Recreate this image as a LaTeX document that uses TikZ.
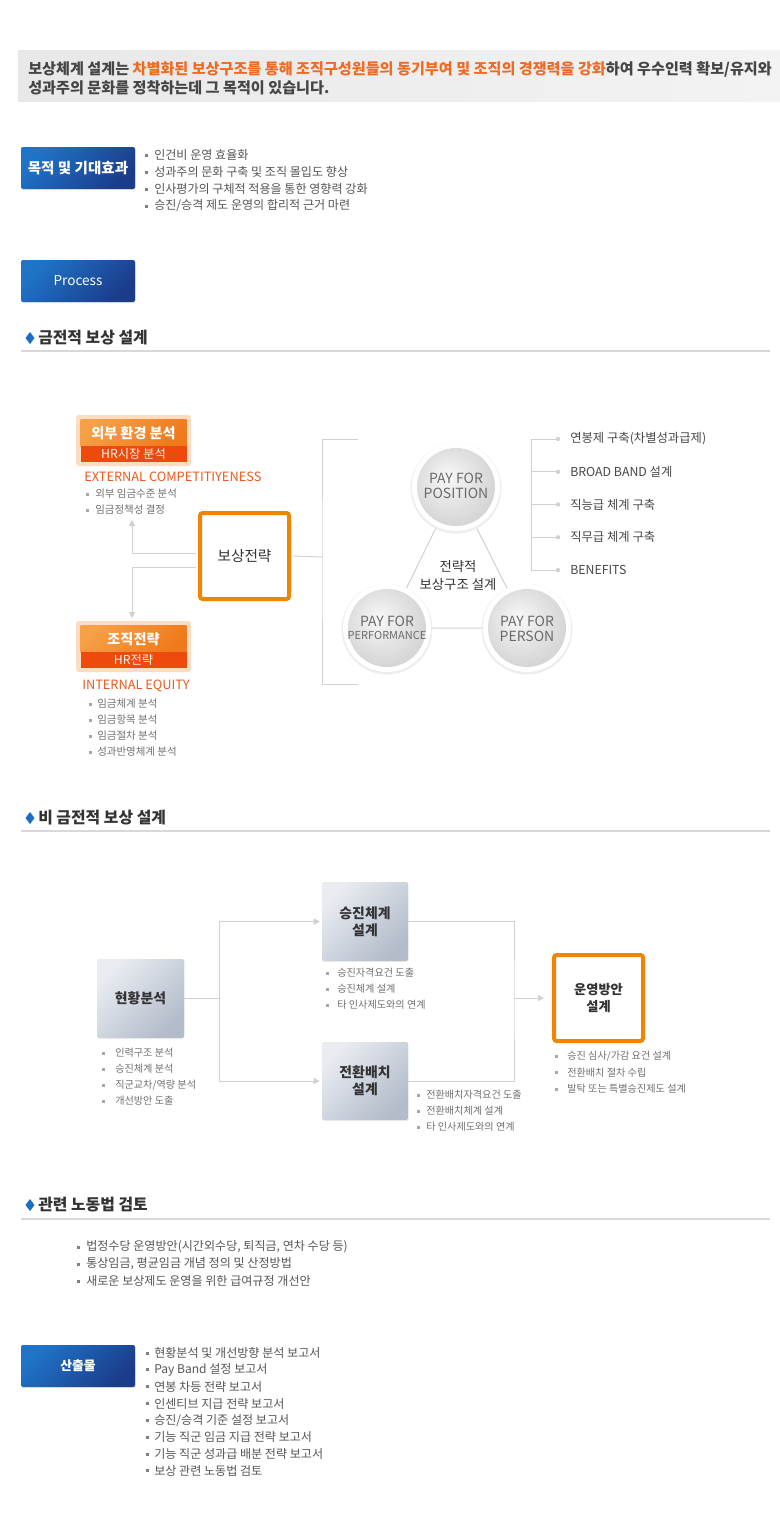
\documentclass[tikz,border=0pt]{standalone}
\usepackage{fontspec}
\setmainfont{Noto Sans CJK KR}
\usetikzlibrary{arrows.meta,shadows,calc}
\definecolor{txt}{HTML}{555555}
\definecolor{txtl}{HTML}{707070}
\definecolor{dark}{HTML}{333333}
\definecolor{titlec}{HTML}{454545}
\definecolor{orng}{HTML}{F26A21}
\definecolor{orngtxt}{HTML}{EE5A1E}
\definecolor{lineg}{HTML}{D0D0D0}
\definecolor{bannerA}{HTML}{E8E8E8}
\definecolor{bannerB}{HTML}{F3F3F3}
\definecolor{blueA}{HTML}{1F74C8}
\definecolor{blueB}{HTML}{1B3C8A}
\definecolor{hdblue}{HTML}{1B6EC2}
\definecolor{bulc}{HTML}{A8A8A8}
\definecolor{bulcd}{HTML}{808080}
\definecolor{obA}{HTML}{F6A047}
\definecolor{obB}{HTML}{EF7A1C}
\definecolor{oband}{HTML}{EE4A0E}
\definecolor{oglow}{HTML}{FCDCC2}
\definecolor{gbA}{HTML}{E9ECF1}
\definecolor{gbB}{HTML}{B3BCCA}
\definecolor{obord}{HTML}{F28500}
\definecolor{ci}{HTML}{F8F8F8}
\definecolor{cm}{HTML}{E6E6E6}
\definecolor{co}{HTML}{D6D6D6}
\definecolor{ctxt}{HTML}{6A6A6A}
\definecolor{ulc}{HTML}{D8D8D8}

\pgfdeclareradialshading{ballshade}{\pgfpoint{-6bp}{7bp}}{color(0bp)=(ci); color(14bp)=(cm); color(27bp)=(co); color(50bp)=(co)}

\newcommand\mylist[7]{%
  \foreach \t [count=\i] in {#7} {%
    \pgfmathsetmacro\yy{#4+#5*(\i-1)}%
    \fill[#6bul] (#2-1.5,\yy-1.5) rectangle (#2+1.5,\yy+1.5);%
    \node[#6] (#1\i) at (#3,\yy) {\t};%
  }%
}

\tikzset{
  bluebtn/.style={rounded corners=1.5pt, minimum width=85.5pt, minimum height=31.5pt,
    left color=blueA, right color=blueB, shading angle=45, text=white,
    font=\bfseries\fontsize{10.9pt}{12pt}\selectfont,
    drop shadow={opacity=0.15,shadow xshift=0.6pt,shadow yshift=-0.9pt}},
  item/.style={anchor=west, inner sep=0pt, text=txt, font=\fontsize{9.05pt}{10pt}\selectfont},
  itembul/.style={fill=bulcd},
  sitem/.style={anchor=west, inner sep=0pt, text=txtl, font=\fontsize{7.6pt}{9pt}\selectfont},
  sitembul/.style={fill=bulc},
  eitem/.style={sitem, font=\fontsize{7.85pt}{9pt}\selectfont},
  eitembul/.style={fill=bulc},
  conn/.style={draw=lineg, line width=0.75pt},
  arr/.style={conn, -{Triangle[length=4.5pt,width=4.5pt]}},
  obox/.style={draw=obord, line width=3pt, fill=white, rounded corners=2pt,
    minimum width=66.75pt, minimum height=64.5pt, text=dark, align=center,
    drop shadow={opacity=0.12,shadow xshift=0.5pt,shadow yshift=-0.8pt}},
  gbox/.style={rounded corners=1.5pt, left color=gbA, right color=gbB, shading angle=45,
    text=dark, align=center, font=\bfseries\fontsize{10.4pt}{12.75pt}\selectfont,
    drop shadow={opacity=0.12,shadow xshift=0.5pt,shadow yshift=-0.8pt}},
  heading/.style={anchor=west, inner sep=0pt, text=dark, font=\bfseries\fontsize{11.9pt}{13pt}\selectfont},
  lbltop/.style={text=white, font=\bfseries\fontsize{10.6pt}{11pt}\selectfont, inner sep=0pt},
  lblbot/.style={text=white!92!orange, font=\fontsize{9.2pt}{10pt}\selectfont, inner sep=0pt},
  engl/.style={anchor=west, inner sep=0pt, text=orngtxt, font=\fontsize{9.6pt}{11pt}\selectfont},
  ritem/.style={anchor=west, inner sep=0pt, text=dark!90, font=\fontsize{9.25pt}{11pt}\selectfont},
  ctext/.style={text=ctxt, align=center, inner sep=0pt, font=\fontsize{10.5pt}{11.25pt}\selectfont},
}

\begin{document}
\begin{tikzpicture}[x=0.75pt,y=-0.75pt]
\useasboundingbox (0,0) rectangle (780,1528);
\fill[white] (0,0) rectangle (780,1528);

% ---------- banner
\shade[left color=bannerA, right color=bannerB] (18,50) rectangle (780,101);
\node[anchor=west, inner sep=0pt, text=titlec, font=\bfseries\fontsize{11.35pt}{13pt}\selectfont] (t1) at (28,69)
  {보상체계 설계는 \textcolor{orng}{차별화된 보상구조를 통해 조직구성원들의 동기부여 및 조직의 경쟁력을 강화}하여 우수인력 확보/유지와};
\node[anchor=west, inner sep=0pt, text=titlec, font=\bfseries\fontsize{11.35pt}{13pt}\selectfont] (t2) at (28,88)
  {성과주의 문화를 정착하는데 그 목적이 있습니다.};

% ---------- purpose
\node[bluebtn] (goal) at (78,168) {목적 및 기대효과};
\mylist{g}{146}{154}{155}{17}{item}{인건비 운영 효율화, 성과주의 문화 구축 및 조직 몰입도 향상, 인사평가의 구체적 적용을 통한 영향력 강화, 승진/승격 제도 운영의 합리적 근거 마련}

% ---------- process
\node[bluebtn, font=\fontsize{10.2pt}{12pt}\selectfont] (proc) at (78,281) {Process};

% ---------- section 1
\fill[hdblue] (30,332) -- (34.5,338) -- (30,344) -- (25.5,338) -- cycle;
\node[heading] (h1) at (38,338) {금전적 보상 설계};
\draw[ulc, line width=1.1pt] (21,351) -- (770,351);

% external box
\fill[oglow, rounded corners=2pt] (76,415) rectangle (191,466);
\shade[left color=obA, right color=obB, shading angle=45] (80.5,419) rectangle (186.5,446);
\fill[oband] (80.5,446) rectangle (186.5,462);
\node[lbltop] (ext) at (133.5,433) {외부 환경 분석};
\node[lblbot] (extb) at (133.5,453.5) {HR시장 분석};
\node[engl] (exte) at (84,477) {EXTERNAL COMPETITIYENESS};
\mylist{e}{87}{95}{494}{16}{eitem}{외부 임금수준 분석, 임금정책성 결정}

% internal box
\fill[oglow, rounded corners=2pt] (76,621) rectangle (191,672);
\shade[left color=obA, right color=obB, shading angle=45] (80.5,625) rectangle (186.5,652);
\fill[oband] (80.5,652) rectangle (186.5,668);
\node[lbltop] (int) at (133.5,639.5) {조직전략};
\node[lblbot] (intb) at (133.5,659.5) {HR전략};
\node[engl] (inte) at (82,686) {INTERNAL EQUITY};
\mylist{n}{90}{97}{704}{16}{eitem}{임금체계 분석, 임금항목 분석, 임금절차 분석, 성과반영체계 분석}

% central strategy box
\node[obox, font=\fontsize{11pt}{12pt}\selectfont] (bs) at (244.5,556) {보상전략};
\coordinate (extarr) at (132,520);
\coordinate (intarr) at (132,618);
\draw[arr] ($(bs.west)+(-2,-3)$) -| (extarr);
\draw[arr] ($(bs.west)+(-2,11)$) -| (intarr);

% bracket
\coordinate (bk) at (322,557);
\coordinate (bkT) at (358,439);
\coordinate (bkB) at (358,684);
\draw[conn] ($(bs.east)+(2,0)$) -- (bk);
\draw[conn] (bkT) -| (bk) |- (bkB);

% circles
\coordinate (cpo) at (456,487);
\coordinate (cpf) at (387,628);
\coordinate (cpe) at (527,628);
\draw[conn] (cpo) -- (cpf) -- (cpe) -- cycle;
\foreach \c in {cpo,cpf,cpe} {
  \fill[black!7] ($(\c)+(0,1.2)$) circle (34pt);
  \fill[white] (\c) circle (33pt);
  \shade[shading=ballshade] (\c) circle (29.25pt);
}
\node[ctext] (tpo) at ($(cpo)+(0,-1)$) {PAY FOR\\POSITION};
\node[ctext] (tpf) at ($(cpf)+(0,0)$) {PAY FOR\\[-1.5pt]{\fontsize{8.25pt}{9pt}\selectfont PERFORMANCE}};
\node[ctext] (tpe) at ($(cpe)+(0,1)$) {PAY FOR\\PERSON};
\node[align=center, inner sep=0pt, text=dark, font=\fontsize{10pt}{13.5pt}\selectfont] (ctr) at (458,576) {전략적\\보상구조 설계};

% right list
\coordinate (rT) at (531,439);
\coordinate (rB) at (531,570);
\draw[conn] (rT) -- (rB);
\foreach \t [count=\i] in {연봉제 구축(차별성과급제), BROAD BAND 설계, 직능급 체계 구축, 직무급 체계 구축, BENEFITS} {
  \pgfmathsetmacro\yy{439+32.75*(\i-1)}
  \coordinate (rs\i) at (531,\yy);
  \coordinate (rd\i) at (558,\yy);
  \draw[conn] (rs\i) -- (rd\i);
  \fill[lineg] (rd\i) circle (1.6pt);
  \node[ritem] (r\i) at (570,\yy) {\t};
}

% ---------- section 2
\fill[hdblue] (30,812) -- (34.5,818) -- (30,824) -- (25.5,818) -- cycle;
\node[heading] (h2) at (38,818) {비 금전적 보상 설계};
\draw[ulc, line width=1.1pt] (21,831) -- (770,831);

\node[gbox, minimum width=65.25pt, minimum height=59.25pt] (hw) at (140.5,998.5) {현황분석};
\node[gbox, minimum width=64.5pt, minimum height=59.25pt] (sj) at (365,921.5) {승진체계\\설계};
\node[gbox, minimum width=64.5pt, minimum height=58.5pt] (jh) at (365,1081) {전환배치\\설계};
\node[obox, font=\bfseries\fontsize{9.9pt}{12.75pt}\selectfont] (ops) at (598.5,998) {운영방안\\설계};

\coordinate (j1) at (219,998.5);
\draw[conn] (hw.east) -- (j1);
\draw[conn] (j1 |- sj.west) -- (j1 |- jh.west);
\draw[arr, shorten >=1.5pt] (j1 |- sj.west) -- (sj.west);
\draw[arr, shorten >=1.5pt] (j1 |- jh.west) -- (jh.west);
\coordinate (j2) at (514,998);
\draw[conn] (sj.east) -| (j2) |- (jh.east);
\draw[arr, shorten >=6pt] (j2) -- (ops.west);

\mylist{a}{103}{115}{1053}{16}{sitem}{인력구조 분석, 승진체계 분석, 직군교차/역량 분석, 개선방안 도출}
\mylist{b}{327}{337}{973}{16}{sitem}{승진자격요건 도출, 승진체계 설계, 타 인사제도와의 연계}
\mylist{c}{418}{426}{1095}{16}{sitem}{전환배치자격요건 도출, 전환배치체계 설계, 타 인사제도와의 연계}
\mylist{d}{556}{567}{1056}{16.5}{sitem}{승진 심사/가감 요건 설계, 전환배치 절차 수립, 발탁 또는 특별승진제도 설계}

% ---------- section 3
\fill[hdblue] (30,1199) -- (34.5,1205) -- (30,1211) -- (25.5,1205) -- cycle;
\node[heading] (h3) at (38,1205) {관련 노동법 검토};
\draw[ulc, line width=1.1pt] (21,1219) -- (770,1219);
\mylist{l}{78}{86}{1247}{17}{item}{{법정수당 운영방안(시간외수당, 퇴직금, 연차 수당 등)}, {통상임금, 평균임금 개념 정의 및 산정방법}, 새로운 보상제도 운영을 위한 급여규정 개선안}

% ---------- outputs
\node[bluebtn, font=\bfseries\fontsize{9.6pt}{12pt}\selectfont] (outp) at (78,1366) {산출물};
\mylist{o}{147}{154}{1353}{16.85}{item}{현황분석 및 개선방향 분석 보고서, Pay Band 설정 보고서, 연봉 차등 전략 보고서, 인센티브 지급 전략 보고서, 승진/승격 기준 설정 보고서, 기능 직군 임금 지급 전략 보고서, 기능 직군 성과급 배분 전략 보고서, 보상 관련 노동법 검토}
\end{tikzpicture}
\end{document}
